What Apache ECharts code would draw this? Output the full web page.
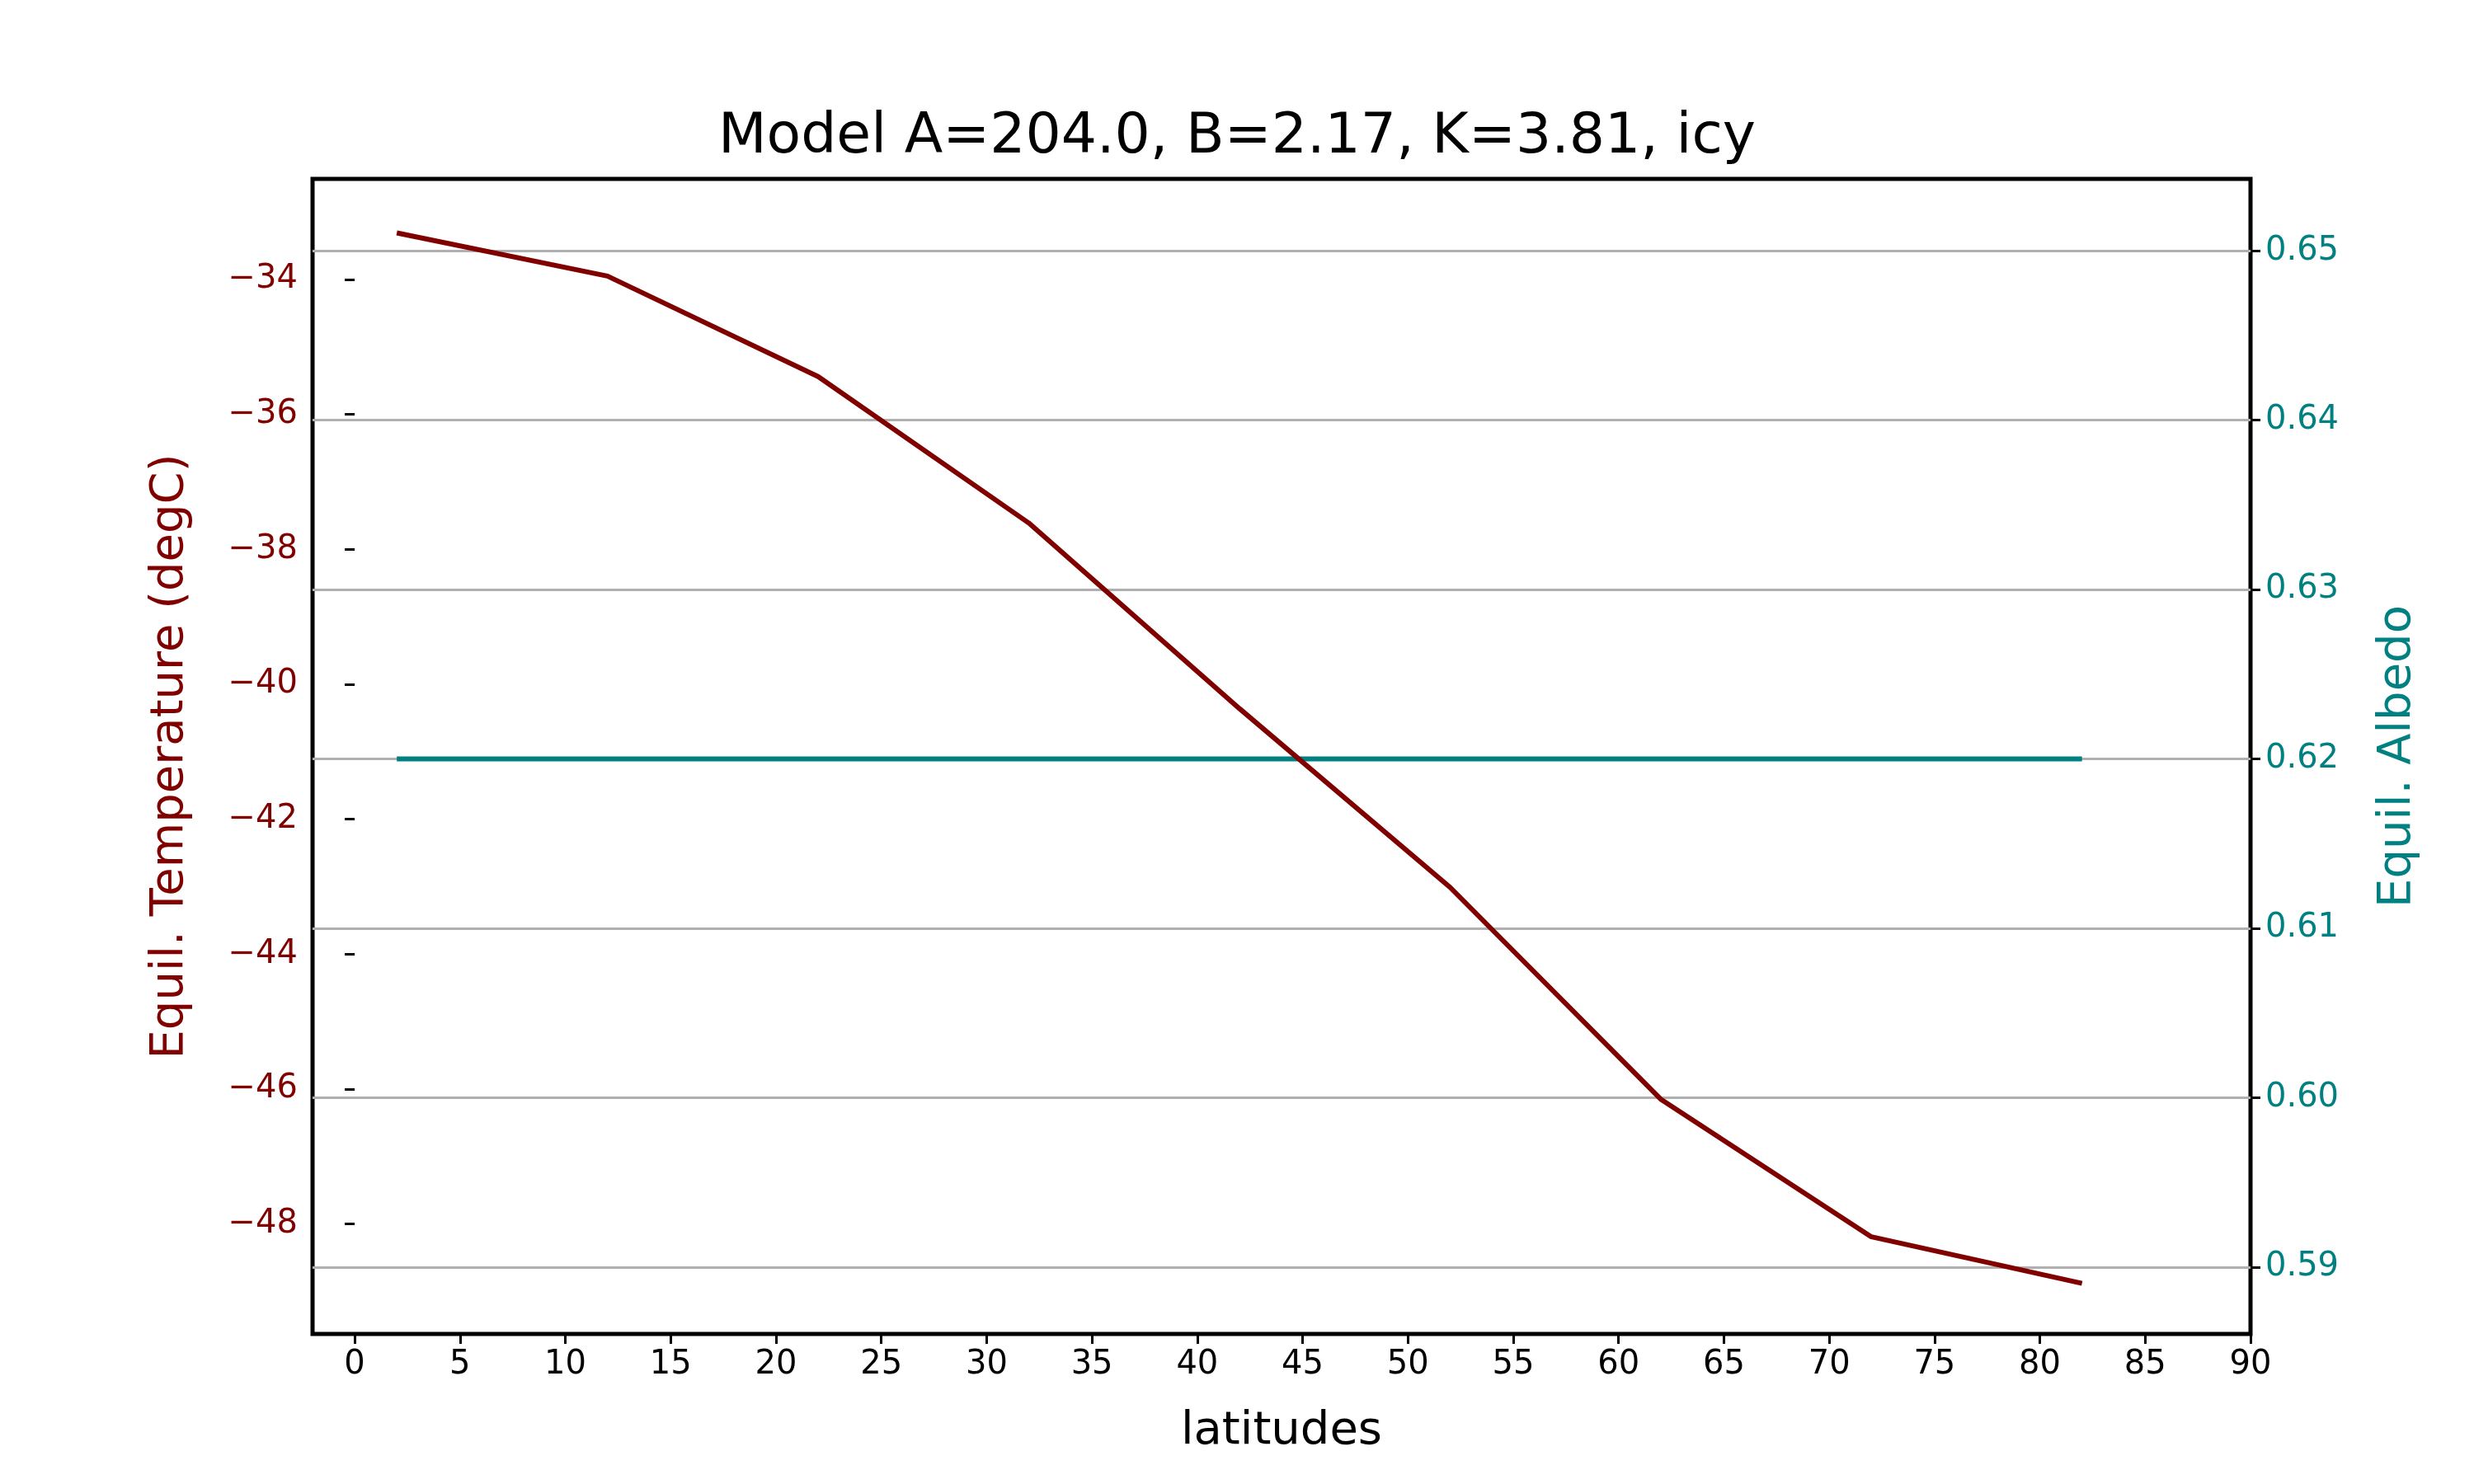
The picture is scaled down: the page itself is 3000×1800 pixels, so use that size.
<!DOCTYPE html>
<html><head><meta charset="utf-8">
<script src="https://cdn.jsdelivr.net/npm/echarts@6/dist/echarts.min.js"></script>
<style>html,body{margin:0;padding:0;background:#fff}#c{width:3000px;height:1800px}</style>
</head><body><div id="c"></div>
<script>
const latitudes = [2, 12, 22, 32, 42, 52, 62, 72, 82];
const temperature = [-33.31, -33.95, -35.44, -37.61, -40.36, -43.01, -46.15, -48.19, -48.88];
const albedo = [0.62, 0.62, 0.62, 0.62, 0.62, 0.62, 0.62, 0.62, 0.62];
const xTicks = [0,5,10,15,20,25,30,35,40,45,50,55,60,65,70,75,80,85,90];
const tTicks = [-48,-46,-44,-42,-40,-38,-36,-34];
const aTicks = [0.59,0.60,0.61,0.62,0.63,0.64,0.65];
const F = 'DejaVu Sans';
const chart = echarts.init(document.getElementById('c'));
chart.setOption({
  backgroundColor:'#fff',
  title:{text:'Model A=204.0, B=2.17, K=3.81, icy',left:'center',top:128,textStyle:{fontFamily:F,fontSize:68,fontWeight:'normal',color:'#000'}},
  grid:{left:379,right:271,top:217,bottom:182,show:true,borderColor:'#000',borderWidth:5,backgroundColor:'transparent'},
  xAxis:{type:'value',min:-2,max:90,name:'latitudes',nameLocation:'middle',nameGap:90,
    nameTextStyle:{fontFamily:F,fontSize:56,color:'#000'},
    axisLine:{show:false},splitLine:{show:false},
    axisTick:{show:true,length:12,customValues:xTicks,lineStyle:{color:'#000',width:3}},
    axisLabel:{customValues:xTicks,fontFamily:F,fontSize:40,color:'#000',margin:18}},
  yAxis:[
    {type:'value',min:-49.63,max:-32.51,position:'left',name:'Equil. Temperature (degC)',nameLocation:'middle',nameGap:145,
     nameTextStyle:{fontFamily:F,fontSize:56,color:'#800000'},
     axisLine:{show:false},splitLine:{show:false},
     axisTick:{show:true,length:12,customValues:tTicks,lineStyle:{color:'#000',width:3}},
     axisLabel:{customValues:tTicks,fontFamily:F,fontSize:40,color:'#800000',margin:18,formatter:v=>String(v).replace('-','\u2212')}},
    {type:'value',min:0.58605,max:0.65424,position:'right',name:'Equil. Albedo',nameLocation:'middle',nameGap:150,
     nameTextStyle:{fontFamily:F,fontSize:56,color:'#008080'},
     axisLine:{show:false},
     splitLine:{show:true,customValues:aTicks,lineStyle:{color:'#b0b0b0',width:3}},
     axisTick:{show:true,length:12,customValues:aTicks,lineStyle:{color:'#000',width:3}},
     axisLabel:{customValues:aTicks,fontFamily:F,fontSize:40,color:'#008080',margin:18,formatter:v=>v.toFixed(2)}}
  ],
  series:[
    {type:'line',yAxisIndex:0,data:latitudes.map((x,i)=>[x,temperature[i]]),showSymbol:false,lineStyle:{color:'#800000',width:6},z:3},
    {type:'line',yAxisIndex:1,data:latitudes.map((x,i)=>[x,albedo[i]]),showSymbol:false,lineStyle:{color:'#008080',width:6},z:2}
  ]
});
</script></body></html>
